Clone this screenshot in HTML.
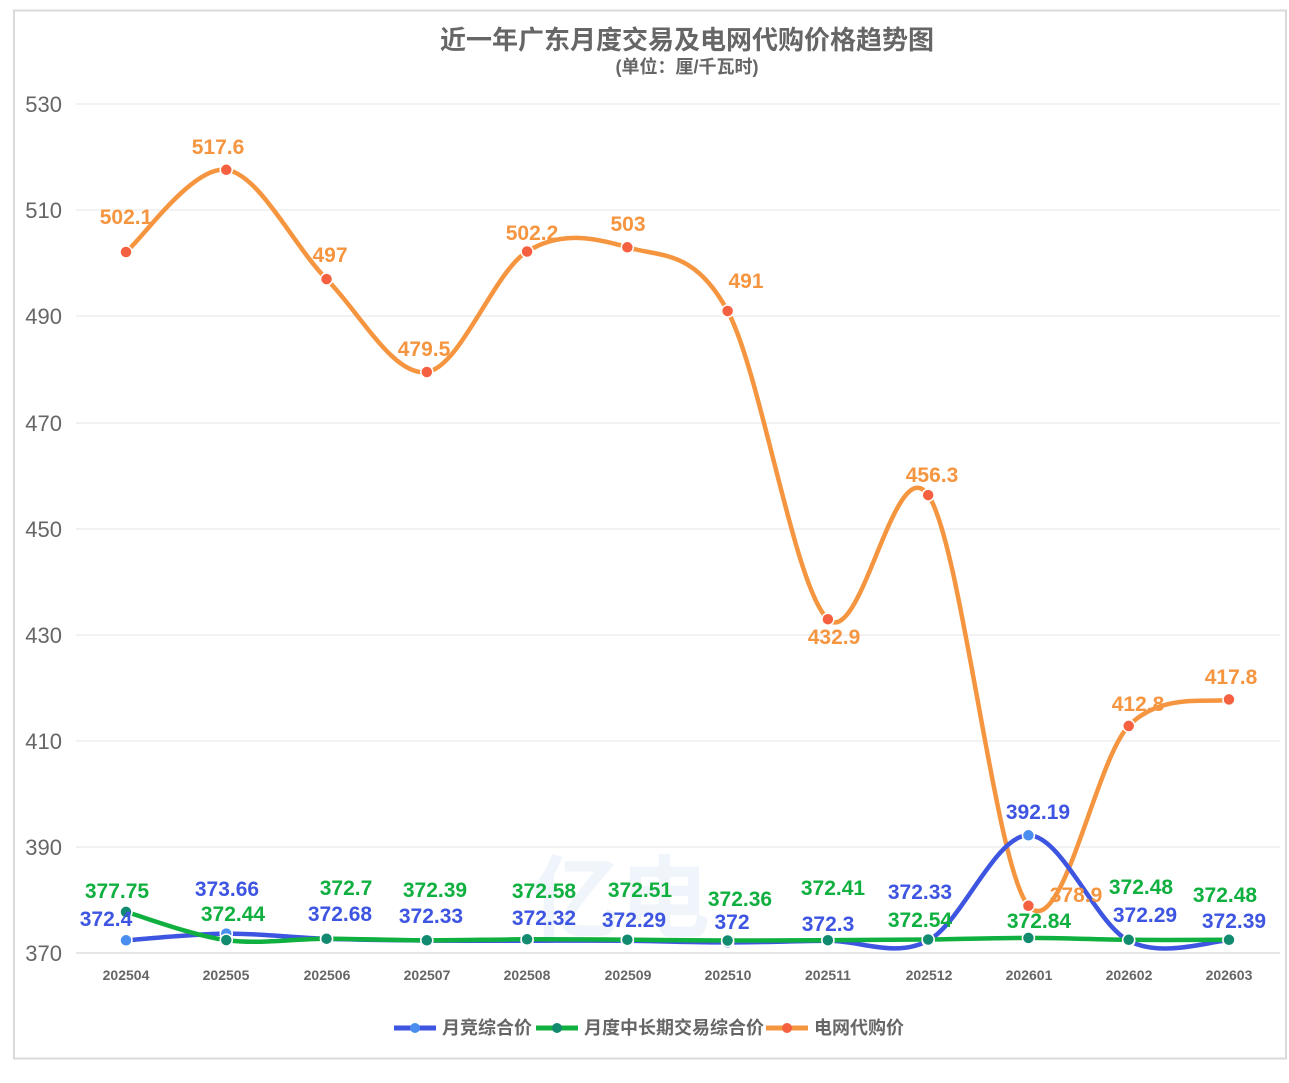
<!DOCTYPE html>
<html><head><meta charset="utf-8"><style>
body{margin:0;background:#fff;width:1289px;height:1078px;overflow:hidden}
svg{font-family:"Liberation Sans","Noto Sans CJK SC",sans-serif}
.ax{font-size:22px;fill:#666}
.xl{font-size:14px;fill:#666;font-weight:bold}
.o{fill:#f59540;font-size:21px;font-weight:bold}
.b{fill:#3d55e0;font-size:21px;font-weight:bold}
.g{fill:#10b040;font-size:21px;font-weight:bold}
</style></head><body>
<svg width="1289" height="1078" xmlns="http://www.w3.org/2000/svg">
<rect x="14" y="10.5" width="1272" height="1048" fill="#fff" stroke="#d9d9d9" stroke-width="2"/>
<text x="687" y="49" text-anchor="middle" font-size="26" font-weight="bold" fill="#666">近一年广东月度交易及电网代购价格趋势图</text>
<text x="687" y="73" text-anchor="middle" font-size="18" font-weight="bold" fill="#666">(单位：厘/千瓦时)</text>
<g stroke="#eee" stroke-width="1.5">
<line x1="76" x2="1280" y1="104" y2="104"/><line x1="76" x2="1280" y1="210" y2="210"/><line x1="76" x2="1280" y1="316" y2="316"/><line x1="76" x2="1280" y1="423" y2="423"/><line x1="76" x2="1280" y1="529" y2="529"/><line x1="76" x2="1280" y1="635" y2="635"/><line x1="76" x2="1280" y1="741" y2="741"/><line x1="76" x2="1280" y1="847" y2="847"/></g>
<line x1="76" x2="1280" y1="953" y2="953" stroke="#ddd" stroke-width="1.5"/>
<g class="ax" text-anchor="end"><text x="62" y="112">530</text><text x="62" y="218">510</text><text x="62" y="324">490</text><text x="62" y="431">470</text><text x="62" y="537">450</text><text x="62" y="643">430</text><text x="62" y="749">410</text><text x="62" y="855">390</text><text x="62" y="961">370</text></g>
<g class="xl" text-anchor="middle"><text x="126" y="980">202504</text><text x="226" y="980">202505</text><text x="327" y="980">202506</text><text x="427" y="980">202507</text><text x="527" y="980">202508</text><text x="628" y="980">202509</text><text x="728" y="980">202510</text><text x="828" y="980">202511</text><text x="929" y="980">202512</text><text x="1029" y="980">202601</text><text x="1129" y="980">202602</text><text x="1229" y="980">202603</text></g>
<text x="530" y="930" font-size="90" font-weight="bold" fill="#3d7fd0" opacity="0.07">亿电</text>
<path id="po" fill="none" stroke="#f59540" stroke-width="4.5"/>
<path id="pb" fill="none" stroke="#3d55e0" stroke-width="4.5"/>
<path id="pg" fill="none" stroke="#10b040" stroke-width="4.5"/>
<g id="dots"></g>
<g class="o" text-anchor="middle"><text x="126" y="224">502.1</text><text x="218" y="154">517.6</text><text x="330" y="262">497</text><text x="424" y="356">479.5</text><text x="532" y="240">502.2</text><text x="628" y="231">503</text><text x="746" y="288">491</text><text x="834" y="644">432.9</text><text x="932" y="482">456.3</text><text x="1076" y="902">378.9</text><text x="1138" y="711">412.8</text><text x="1231" y="684">417.8</text></g>
<g class="b" text-anchor="middle"><text x="106" y="926">372.4</text><text x="227" y="896">373.66</text><text x="340" y="921">372.68</text><text x="431" y="923">372.33</text><text x="544" y="925">372.32</text><text x="634" y="927">372.29</text><text x="732" y="929">372</text><text x="828" y="931">372.3</text><text x="920" y="899">372.33</text><text x="1038" y="819">392.19</text><text x="1145" y="922">372.29</text><text x="1234" y="928">372.39</text></g>
<g class="g" text-anchor="middle"><text x="117" y="898">377.75</text><text x="233" y="921">372.44</text><text x="346" y="895">372.7</text><text x="435" y="897">372.39</text><text x="544" y="898">372.58</text><text x="640" y="897">372.51</text><text x="740" y="906">372.36</text><text x="833" y="895">372.41</text><text x="920" y="927">372.54</text><text x="1039" y="928">372.84</text><text x="1141" y="894">372.48</text><text x="1225" y="902">372.48</text></g>
<g font-size="18" font-weight="bold" fill="#666">
<line x1="394" x2="436" y1="1028" y2="1028" stroke="#3d55e0" stroke-width="5"/><circle cx="415" cy="1028" r="5" fill="#4a8ef0"/><text x="442" y="1034">月竞综合价</text>
<line x1="536" x2="578" y1="1028" y2="1028" stroke="#10b040" stroke-width="5"/><circle cx="557" cy="1028" r="5" fill="#118a70"/><text x="584" y="1034">月度中长期交易综合价</text>
<line x1="766" x2="808" y1="1028" y2="1028" stroke="#f59540" stroke-width="5"/><circle cx="787" cy="1028" r="5" fill="#f56040"/><text x="814" y="1034">电网代购价</text></g>
</svg>
<script>
var X=[];for(var i=0;i<12;i++)X.push(126+i*100.27);
var O=[252,169.8,279.1,372,251.5,247.3,311,619.2,495.1,905.8,725.9,699.4];
var B=[940.3,933.6,938.8,940.6,940.7,940.8,942.4,940.8,940.6,835.3,940.8,940.3];
var G=[911.9,940.1,938.7,940.3,939.3,939.7,940.5,940.2,939.5,937.9,939.8,939.8];
function path(Y){var d="M"+X[0]+","+Y[0];for(var i=0;i<11;i++){var p0=i?i-1:i,p3=i<10?i+2:i+1;
var c1x=X[i]+(X[i+1]-X[p0])/6,c1y=Y[i]+(Y[i+1]-Y[p0])/6,c2x=X[i+1]-(X[p3]-X[i])/6,c2y=Y[i+1]-(Y[p3]-Y[i])/6;
d+=" C"+c1x+","+c1y+" "+c2x+","+c2y+" "+X[i+1]+","+Y[i+1];}return d;}
document.getElementById("po").setAttribute("d",path(O));
document.getElementById("pb").setAttribute("d",path(B));
document.getElementById("pg").setAttribute("d",path(G));
var s="";function dots(Y,c){for(var i=0;i<12;i++)s+='<circle cx="'+X[i]+'" cy="'+Y[i]+'" r="6" fill="'+c+'" stroke="#fff" stroke-width="1.5"/>';}
dots(B,"#4a8ef0");dots(G,"#118a70");dots(O,"#f56040");
document.getElementById("dots").innerHTML=s;
</script>
</body></html>
